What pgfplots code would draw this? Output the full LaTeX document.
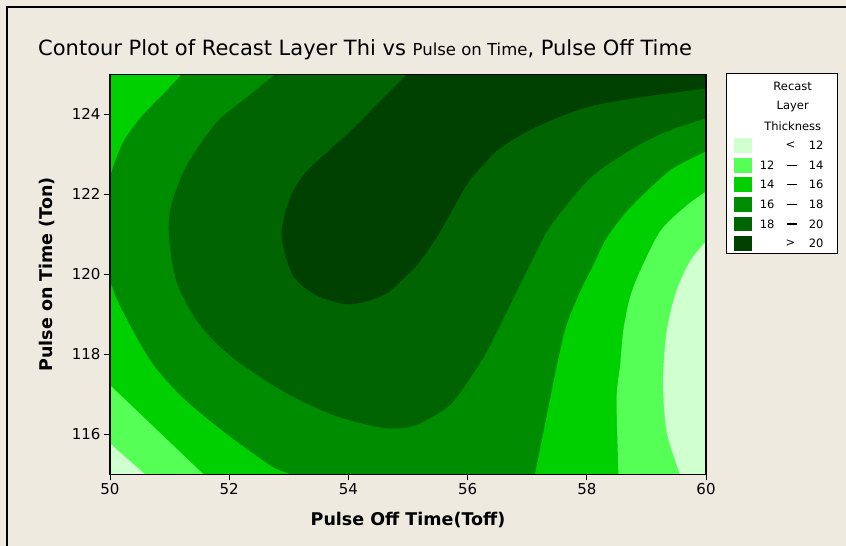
\documentclass[border=0pt]{standalone}
\usepackage{pgfplots}
\pgfplotsset{compat=1.18}
\usepackage{fontspec}
\setmainfont{DejaVu Sans}
\definecolor{bg}{HTML}{EEEAE0}
\definecolor{cA}{HTML}{D0FFD0}
\definecolor{cB}{HTML}{55FF55}
\definecolor{cC}{HTML}{00D000}
\definecolor{cD}{HTML}{008C00}
\definecolor{cE}{HTML}{006400}
\definecolor{cF}{HTML}{004000}
\begin{document}
\begin{tikzpicture}[x=1pt,y=1pt]
\useasboundingbox (0,0) rectangle (846,-546);
\fill[bg] (-5,5) rectangle (851,-551);
\draw[black,line width=2pt] (7,-551) -- (7,-7) -- (851,-7);
\node[anchor=base west,inner sep=0pt] at (38,-55) {\fontsize{21}{23}\selectfont Contour Plot of Recast Layer Thi vs {\fontsize{16.5}{18}\selectfont Pulse on Time}, Pulse Off Time};
\begin{axis}[at={(110pt,-474.3pt)},anchor=south west,scale only axis,
  width=596pt,height=400pt,
  xmin=50,xmax=60,ymin=115,ymax=125,
  xtick={50,52,...,60},ytick={116,118,...,124},
  tick align=outside,xtick pos=left,ytick pos=left,
  major tick length=6pt,
  axis line style={black,line width=1.1pt},
  tick style={black,line width=1pt},
  ticklabel style={font=\fontsize{15}{17}\selectfont},
  /pgf/number format/assume math mode=true,
  xlabel={Pulse Off Time(Toff)},ylabel={Pulse on Time (Ton)},
  label style={font=\bfseries\fontsize{17.5}{19}\selectfont},
  xlabel style={at={(axis description cs:0.5,-0.114)},anchor=center},
  ylabel style={at={(axis description cs:-0.1057,0.5)},anchor=center},
  axis on top,clip=true]
% 16-18 base
\addplot[fill=cD,draw=none] coordinates {(49,114) (61,114) (61,126) (49,126)};
% 18-20
\addplot[fill=cE,draw=none,smooth,tension=0.5] coordinates {
(52.97,125.25) (52.77,125) (52.28,124.4) (51.79,123.8) (51.29,122.73) (51.03,121.73)
(50.99,120.98) (51.12,119.8) (51.51,118.73) (52.07,117.9) (52.91,117.07) (53.75,116.48)
(54.47,116.19) (54.87,116.15) (55.2,116.27) (55.7,116.73) (56.04,117.4) (56.32,118.06)
(56.66,119.07) (56.99,120.07) (57.33,121.07) (57.66,121.73) (58.11,122.48) (58.78,123.15)
(59.34,123.57) (60,123.9) (60.5,124.1) (60.6,125.6) (53,125.6)};
% >20
\addplot[fill=cF,draw=none,smooth,tension=0.5] coordinates {
(55.15,125.3) (54.98,125) (54.5,124.28) (54.03,123.57) (53.3,122.57) (53.02,121.9)
(52.88,120.98) (53.07,119.98) (53.46,119.48) (54.02,119.25) (54.59,119.48) (54.95,119.93)
(55.2,120.32) (55.54,121.07) (55.98,122.23) (56.26,122.73) (56.54,123.15) (57.1,123.65)
(57.94,124.15) (58.78,124.4) (60,124.65) (60.5,124.75) (60.6,125.6) (55.2,125.6)};
% 14-16 top-left
\addplot[fill=cC,draw=none,smooth,tension=0.5] coordinates {
(51.35,125.3) (51.2,125) (50.95,124.6) (50.5,123.9) (50.22,123.31) (50.06,122.73)
(50,122.48) (49.8,122.2) (49.4,125.6) (51.4,125.6)};
% 14-16 bottom-left
\addplot[fill=cC,draw=none,smooth,tension=0.5] coordinates {
(49.8,120.1) (50,119.8) (50.11,119.39) (50.39,118.57) (50.73,117.73) (51.23,116.9)
(51.9,116.07) (52.68,115.23) (53.02,115) (53.3,114.75) (49.4,114.4)};
% 14-16 right
\addplot[fill=cC,draw=none,smooth,tension=0.5] coordinates {
(57.08,114.7) (57.13,115) (57.33,116.48) (57.5,117.73) (57.66,118.73) (57.89,119.57)
(58.11,120.23) (58.33,120.9) (58.67,121.57) (59.06,122.15) (59.45,122.65) (60,123.07)
(60.4,123.3) (60.6,114.4)};
% 12-14 left
\addplot[fill=cB,draw=none,smooth,tension=0.5] coordinates {
(49.8,117.5) (50,117.23) (50.78,116.12) (51.57,115) (51.75,114.75) (49.4,114.4)};
% 12-14 right
\addplot[fill=cB,draw=none,smooth,tension=0.5] coordinates {
(58.53,114.7) (58.53,115) (58.5,116.9) (58.56,117.73) (58.61,118.57) (58.72,119.4)
(58.89,120.07) (59.23,121.07) (59.62,121.65) (60,122.07) (60.4,122.4) (60.6,114.4)};
% <12 left
\addplot[fill=cA,draw=none,smooth,tension=0.5] coordinates {
(49.8,116.03) (50,115.77) (50.59,115) (50.8,114.75) (49.4,114.4)};
% <12 right
\addplot[fill=cA,draw=none,smooth,tension=0.5] coordinates {
(59.62,114.7) (59.56,115) (59.34,116.07) (59.28,117.32) (59.34,118.57) (59.5,119.57)
(59.73,120.32) (60,120.82) (60.3,121.2) (60.6,114.4)};
\end{axis}
% legend
\draw[black,line width=1pt,fill=white] (726.7,-73.3) rectangle (837.7,-253.3);
\begin{scope}[font=\fontsize{11.5}{13}\selectfont]
\node at (792.7,-86.7) {Recast};
\node at (792.7,-106.7) {Layer};
\node at (792.7,-126.7) {Thickness};
\foreach \c/\y in {cA/145.5,cB/165.1,cC/184.7,cD/204.3,cE/223.9,cF/243.5}{
  \fill[\c] (734.3,-\y+7.4) rectangle (751.7,-\y-7.4);}
\node at (790.5,-145.5) {<};
\node[anchor=east] at (827,-145.5) {12};
\foreach \a/\b/\y in {12/14/165.1,14/16/184.7,16/18/204.3,18/20/223.9}{
  \node[anchor=east] at (778,-\y) {\a};
  \fill[black] (786.7,-\y+0.6) rectangle (796.7,-\y-0.6);
  \node[anchor=east] at (827,-\y) {\b};}
\node at (790.5,-243.5) {>};
\node[anchor=east] at (827,-243.5) {20};
\end{scope}
\end{tikzpicture}
\end{document}
